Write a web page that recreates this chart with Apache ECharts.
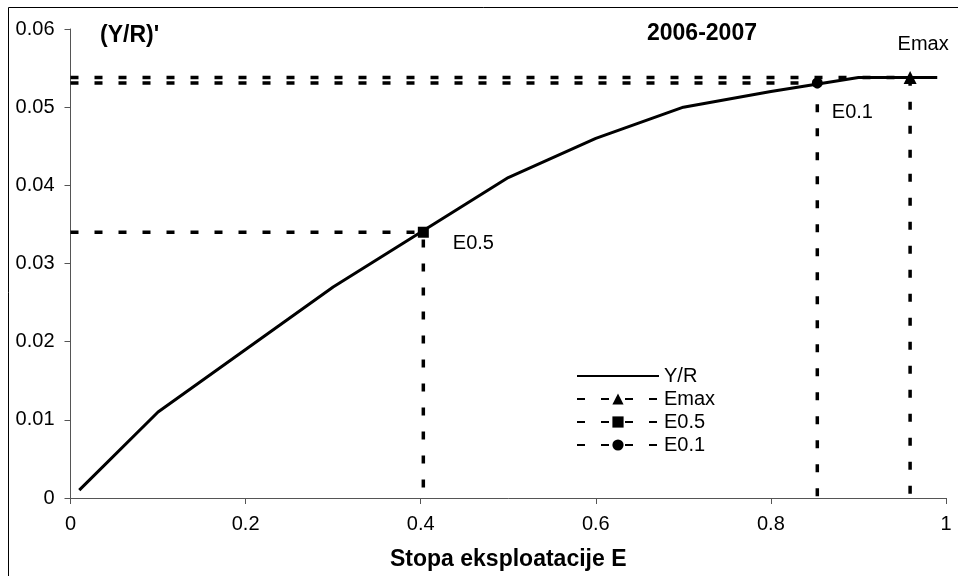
<!DOCTYPE html>
<html>
<head>
<meta charset="utf-8">
<script src="https://cdn.jsdelivr.net/npm/echarts@6/dist/echarts.min.js"></script>
<style>
  html, body { margin: 0; padding: 0; background: #fff; }
  #chart { width: 958px; height: 576px; }
</style>
</head>
<body>
<div id="chart"></div>
<script>
// Yield per recruit curve, 2006-2007
const exploitation = [0.01, 0.1, 0.2, 0.3, 0.4, 0.5, 0.6, 0.7, 0.8, 0.9, 0.99];
const yieldPerRecruit = [0.001, 0.011, 0.019, 0.027, 0.034, 0.041, 0.046, 0.050, 0.052, 0.0538, 0.0538];

// Reference points [E, (Y/R)']
const pointEmax = [0.959, 0.0538];
const pointE05 = [0.403, 0.034];
const pointE01 = [0.853, 0.0531];

const xTickValues = [0, 0.2, 0.4, 0.6, 0.8, 1];
const yTickValues = [0, 0.01, 0.02, 0.03, 0.04, 0.05, 0.06];

const FONT = 'Liberation Sans, Arial, sans-serif';
const DASH = [8, 16];

// Dashed guide: from the y axis across to the point, then down to the x axis
function guide(pt, symbol, size, text, offset) {
  return [
    { value: [0, pt[1]], symbol: 'none' },
    {
      value: [pt[0], pt[1]], symbol: symbol, symbolSize: size,
      label: {
        show: true, position: 'right', distance: 5, offset: offset,
        formatter: text, fontFamily: FONT, fontSize: 20, color: '#000'
      }
    },
    { value: [pt[0], 0], symbol: 'none' }
  ];
}

function guideSeries(name, pt, symbol, size, offset) {
  return {
    name: name,
    type: 'line',
    symbol: symbol,
    symbolSize: size,
    showSymbol: true,
    data: guide(pt, symbol, size, name, offset),
    lineStyle: { color: '#000', width: 3.5, type: DASH },
    itemStyle: { color: '#000' },
    emphasis: { disabled: true },
    z: 3
  };
}

const chart = echarts.init(document.getElementById('chart'), null, { renderer: 'canvas' });

chart.setOption({
  animation: false,
  backgroundColor: '#fff',
  grid: { left: 70.5, right: 12, top: 29, bottom: 78, containLabel: false },
  title: [
    { text: "(Y/R)'", left: 100, top: 24, padding: 0,
      textStyle: { fontFamily: FONT, fontSize: 23, fontWeight: 'bold', color: '#000' } },
    { text: '2006-2007', left: 647, top: 22, padding: 0,
      textStyle: { fontFamily: FONT, fontSize: 23, fontWeight: 'bold', color: '#000' } }
  ],
  legend: {
    orient: 'vertical',
    left: 576,
    top: 366,
    itemWidth: 82,
    itemHeight: 14,
    itemGap: 3,
    padding: 0,
    selectedMode: false,
    textStyle: { fontFamily: FONT, fontSize: 20, color: '#000', lineHeight: 19 },
    data: [
      { name: 'Y/R', itemStyle: { opacity: 0 } },
      'Emax', 'E0.5', 'E0.1'
    ]
  },
  xAxis: {
    type: 'value',
    min: xTickValues[0],
    max: xTickValues[xTickValues.length - 1],
    interval: 0.2,
    name: 'Stopa eksploatacije E',
    nameLocation: 'middle',
    nameGap: 50,
    nameTextStyle: { fontFamily: FONT, fontSize: 23, fontWeight: 'bold', color: '#000' },
    axisLine: { lineStyle: { color: '#555', width: 1 } },
    axisTick: { show: true, inside: false, length: 6, lineStyle: { color: '#555' } },
    axisLabel: { margin: 16, fontFamily: FONT, fontSize: 20, color: '#000',
      formatter: v => String(Math.round(v * 10) / 10) },
    splitLine: { show: false }
  },
  yAxis: {
    type: 'value',
    min: yTickValues[0],
    max: yTickValues[yTickValues.length - 1],
    interval: 0.01,
    axisLine: { show: true, lineStyle: { color: '#555', width: 1 } },
    axisTick: { show: true, inside: false, length: 6, lineStyle: { color: '#555' } },
    axisLabel: { margin: 16, fontFamily: FONT, fontSize: 20, color: '#000',
      formatter: v => String(Math.round(v * 100) / 100) },
    splitLine: { show: false }
  },
  graphic: [
    { type: 'rect', silent: true, z: 100,
      shape: { x: 8.5, y: 7.5, width: 1000, height: 1000 },
      style: { fill: 'none', stroke: '#000', lineWidth: 1 } }
  ],
  series: [
    {
      name: 'Y/R',
      type: 'line',
      symbol: 'none',
      data: exploitation.map((e, i) => [e, yieldPerRecruit[i]]),
      lineStyle: { color: '#000', width: 3 },
      itemStyle: { color: '#000' },
      emphasis: { disabled: true },
      z: 4
    },
    guideSeries('Emax', pointEmax, 'triangle', 13, [-24, -33]),
    guideSeries('E0.5', pointE05, 'rect', 11, [19, 11]),
    guideSeries('E0.1', pointE01, 'circle', 11, [4, 30])
  ]
});
</script>
</body>
</html>
